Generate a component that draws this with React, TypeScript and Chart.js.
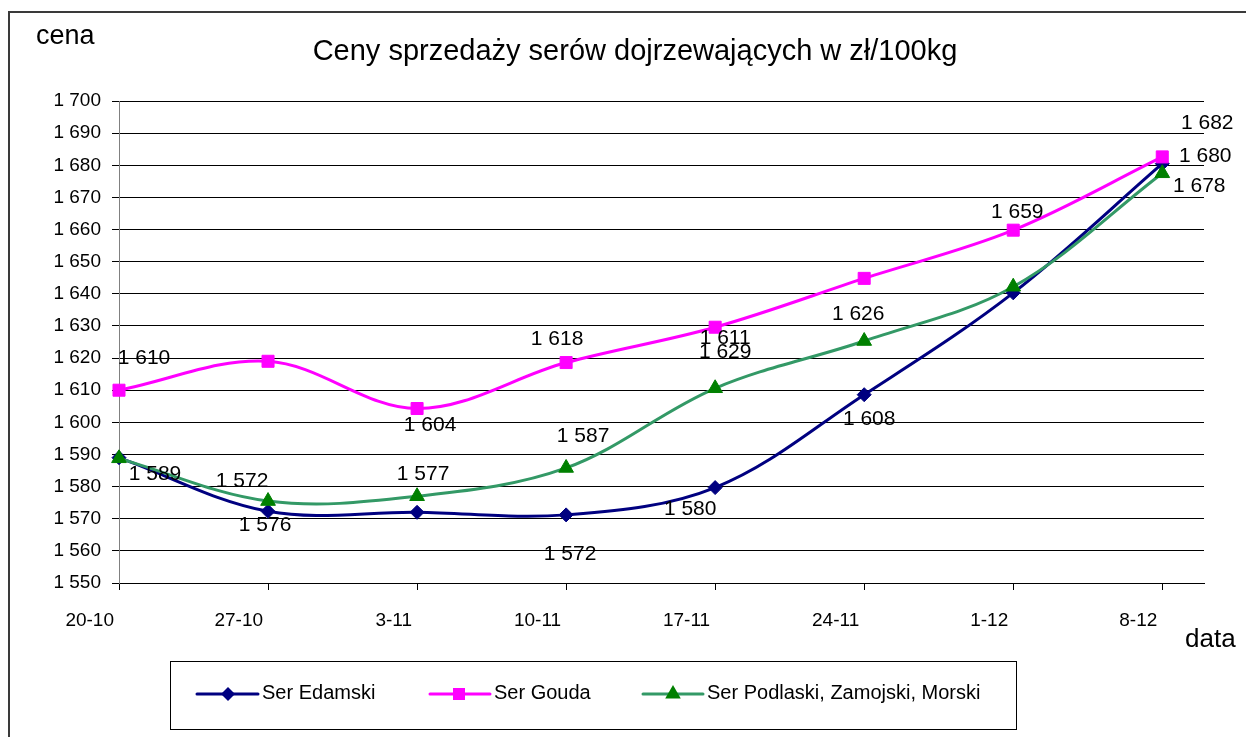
import React, { useEffect, useRef } from 'react';
import { Chart, registerables } from 'chart.js';

Chart.register(...registerables);

// ---------- data ----------
const categories = ['20-10', '27-10', '3-11', '10-11', '17-11', '24-11', '1-12', '8-12'];
const seriesNames = ['Ser Edamski', 'Ser Gouda', 'Ser Podlaski, Zamojski, Morski'];
const edamski = [1589, 1572.3, 1572, 1571.2, 1579.7, 1608.6, 1640.3, 1680.5];
const gouda = [1610, 1619, 1604.3, 1618.6, 1629.6, 1644.8, 1659.8, 1682.6];
const podlaski = [1588.8, 1575.5, 1577, 1585.8, 1610.6, 1625.3, 1642.2, 1677.5];

// data-label texts as printed on the chart
const edamskiLabels = ['1 589', '1 576', null, '1 572', '1 580', '1 608', null, '1 680'];
const goudaLabels = ['1 610', null, '1 604', '1 618', '1 629', null, '1 659', '1 682'];
const podlaskiLabels = [null, '1 572', '1 577', '1 587', '1 611', '1 626', null, '1 678'];

const yMin = 1550;
const yMax = 1700;
const yStep = 10;

const titleText = 'Ceny sprzedaży serów dojrzewających w zł/100kg';
const yAxisTitle = 'cena';
const xAxisTitle = 'data';

// ---------- styles ----------
const FONT = '"Liberation Sans", Arial, Helvetica, sans-serif';
const colors = {
  edamski: '#000080',
  gouda: '#FF00FF',
  podlaskiLine: '#339966',
  podlaskiMarker: '#008000',
};

// label placement relative to the point (pixels)
const edamskiLabelOffsets = [[36, 15], [-3, 12.5], null, [4, 38], [-25, 20], [5, 23], null, [43, -9]];
const goudaLabelOffsets = [[25, -34], null, [13, 15], [-9, -25], [10, 23], null, [4, -20], [45, -35]];
const podlaskiLabelOffsets = [null, [-26, -22], [6, -24], [17, -33], [10, -52], [-6, -29], null, [37, 11]];

const formatPl = (v: number) => {
  const r = Math.round(v);
  const th = Math.floor(r / 1000);
  const rest = r % 1000;
  return th > 0 ? `${th} ${String(rest).padStart(3, '0')}` : String(rest);
};

function drawMarker(ctx: CanvasRenderingContext2D, kind: string, x: number, y: number, color: string) {
  ctx.save();
  ctx.fillStyle = color;
  ctx.beginPath();
  if (kind === 'diamond') {
    const r = 7;
    ctx.moveTo(x, y - r);
    ctx.lineTo(x + r, y);
    ctx.lineTo(x, y + r);
    ctx.lineTo(x - r, y);
  } else if (kind === 'square') {
    const h = 6;
    ctx.rect(x - h, y - h, 2 * h, 2 * h);
  } else {
    const r = 9;
    ctx.moveTo(x, y - r);
    ctx.lineTo(x + r * 0.866, y + r / 2);
    ctx.lineTo(x - r * 0.866, y + r / 2);
  }
  ctx.closePath();
  ctx.fill();
  ctx.restore();
}

const labelSets = [
  { texts: edamskiLabels, offsets: edamskiLabelOffsets },
  { texts: goudaLabels, offsets: goudaLabelOffsets },
  { texts: podlaskiLabels, offsets: podlaskiLabelOffsets },
];

const legendLayout = [
  { x0: 197, x1: 258, mx: 228, tx: 262, line: colors.edamski, marker: colors.edamski, kind: 'diamond' },
  { x0: 430, x1: 490, mx: 459, tx: 494, line: colors.gouda, marker: colors.gouda, kind: 'square' },
  { x0: 643, x1: 703, mx: 673, tx: 707, line: colors.podlaskiLine, marker: colors.podlaskiMarker, kind: 'triangle' },
];

const decorPlugin = {
  id: 'decor',
  beforeDraw(chart: any) {
    const ctx: CanvasRenderingContext2D = chart.ctx;
    ctx.save();
    ctx.fillStyle = '#fff';
    ctx.fillRect(0, 0, chart.width, chart.height);
    // outer frame
    ctx.strokeStyle = '#3a3a3a';
    ctx.lineWidth = 2;
    ctx.beginPath();
    ctx.moveTo(9, 800);
    ctx.lineTo(9, 12);
    ctx.lineTo(1400, 12);
    ctx.stroke();
    ctx.restore();
  },
  afterDatasetsDraw(chart: any) {
    const ctx: CanvasRenderingContext2D = chart.ctx;
    const size = 21;
    ctx.save();
    ctx.font = `${size}px ${FONT}`;
    ctx.fillStyle = '#000';
    ctx.textAlign = 'center';
    ctx.textBaseline = 'alphabetic';
    labelSets.forEach((set, di) => {
      const meta = chart.getDatasetMeta(di);
      set.texts.forEach((t, i) => {
        const off = set.offsets[i];
        const el = meta.data[i];
        if (!t || !off || !el) return;
        ctx.fillText(t, el.x + off[0], el.y + off[1] + (0.716 * size) / 2);
      });
    });
    ctx.restore();
  },
  afterDraw(chart: any) {
    const ctx: CanvasRenderingContext2D = chart.ctx;
    ctx.save();
    ctx.fillStyle = '#000';
    ctx.textBaseline = 'alphabetic';
    // title
    ctx.font = `29px ${FONT}`;
    ctx.textAlign = 'center';
    ctx.fillText(titleText, 635, 60);
    // axis titles
    ctx.textAlign = 'left';
    ctx.font = `27px ${FONT}`;
    ctx.fillText(yAxisTitle, 36, 44);
    ctx.font = `26px ${FONT}`;
    ctx.fillText(xAxisTitle, 1185, 647);

    // legend box
    ctx.strokeStyle = '#000';
    ctx.lineWidth = 1;
    ctx.strokeRect(170.5, 661.5, 846, 68);
    const ly = 694;
    ctx.font = `20px ${FONT}`;
    legendLayout.forEach((it, i) => {
      ctx.strokeStyle = it.line;
      ctx.lineWidth = 3;
      ctx.lineCap = 'round';
      ctx.beginPath();
      ctx.moveTo(it.x0, ly);
      ctx.lineTo(it.x1, ly);
      ctx.stroke();
      drawMarker(ctx, it.kind, it.mx, ly, it.marker);
      ctx.fillStyle = '#000';
      ctx.fillText(seriesNames[i], it.tx, 699);
    });
    ctx.restore();
  },
};

export default function App() {
  const canvasRef = useRef<HTMLCanvasElement | null>(null);

  useEffect(() => {
    const canvas = canvasRef.current;
    if (!canvas) return;
    const toPts = (arr: number[]) => arr.map((y, i) => ({ x: i, y }));
    const common = {
      borderWidth: 3,
      pointBorderWidth: 1,
      tension: 0.35,
      clip: false,
      borderCapStyle: 'round',
      borderJoinStyle: 'round',
    };
    const chart = new Chart(canvas, {
      type: 'line',
      data: {
        datasets: [
          {
            ...common,
            label: seriesNames[0],
            data: toPts(edamski),
            borderColor: colors.edamski,
            backgroundColor: colors.edamski,
            pointBackgroundColor: colors.edamski,
            pointBorderColor: colors.edamski,
            pointStyle: 'rectRot',
            pointRadius: 7,
            order: 2,
          },
          {
            ...common,
            label: seriesNames[1],
            data: toPts(gouda),
            borderColor: colors.gouda,
            backgroundColor: colors.gouda,
            pointBackgroundColor: colors.gouda,
            pointBorderColor: colors.gouda,
            pointStyle: 'rect',
            pointRadius: 8.5,
            order: 1,
          },
          {
            ...common,
            label: seriesNames[2],
            data: toPts(podlaski),
            borderColor: colors.podlaskiLine,
            backgroundColor: colors.podlaskiMarker,
            pointBackgroundColor: colors.podlaskiMarker,
            pointBorderColor: colors.podlaskiMarker,
            pointStyle: 'triangle',
            pointRadius: 8.5,
            order: 0,
          },
        ],
      },
      options: {
        responsive: false,
        animation: false,
        devicePixelRatio: 1,
        events: [],
        layout: { padding: { left: 0, top: 101, right: 42, bottom: 94 } },
        plugins: {
          legend: { display: false },
          title: { display: false },
          tooltip: { enabled: false },
        },
        scales: {
          x: {
            type: 'linear',
            min: 0,
            max: categories.length - 1 + 0.28,
            afterFit: (s: any) => {
              s.height = 60;
            },
            ticks: {
              stepSize: 1,
              includeBounds: false,
              autoSkip: false,
              maxRotation: 0,
              minRotation: 0,
              align: 'end',
              labelOffset: -5,
              padding: 19,
              color: '#000',
              font: { family: FONT, size: 19 },
              callback: (v: any) => (Number.isInteger(v) ? categories[v] ?? '' : ''),
            },
            grid: {
              drawOnChartArea: false,
              drawTicks: true,
              tickLength: 7,
              color: '#000',
              lineWidth: 1,
            },
            border: { display: true, color: '#000', width: 1 },
          },
          y: {
            min: yMin,
            max: yMax,
            afterFit: (s: any) => {
              s.width = 119;
            },
            ticks: {
              stepSize: yStep,
              padding: 11,
              color: '#000',
              font: { family: FONT, size: 19 },
              callback: (v: any) => formatPl(Number(v)),
            },
            grid: {
              drawOnChartArea: true,
              drawTicks: true,
              tickLength: 7,
              color: '#000',
              lineWidth: 1,
            },
            border: { display: true, color: '#808080', width: 1 },
          },
        },
      },
      plugins: [decorPlugin],
    } as any);
    return () => chart.destroy();
  }, []);

  return (
    <div
      style={{
        position: 'fixed',
        left: 0,
        top: 0,
        width: 1246,
        height: 737,
        background: '#fff',
        overflow: 'hidden',
      }}
    >
      <canvas ref={canvasRef} width={1246} height={737} style={{ display: 'block', width: 1246, height: 737 }} />
    </div>
  );
}
